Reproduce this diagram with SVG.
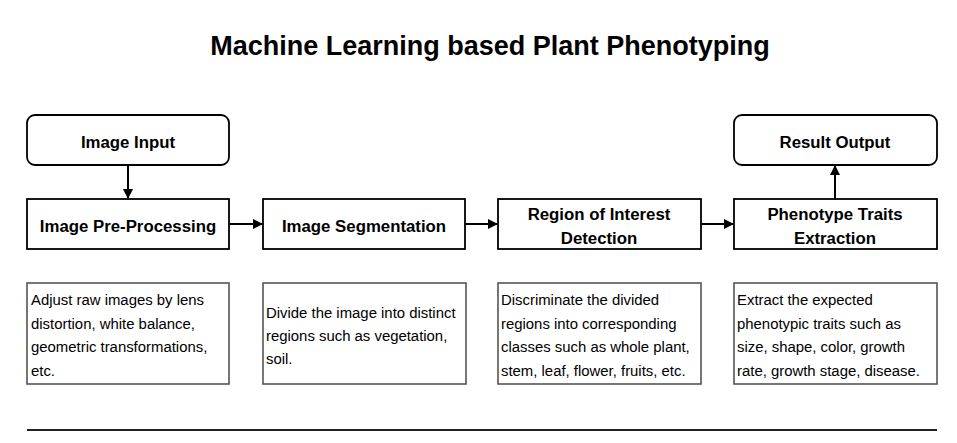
<svg xmlns="http://www.w3.org/2000/svg" width="957" height="443" viewBox="0 0 957 443">
<style>
.node{fill:#fff;stroke:#000;stroke-width:1.8}
.desc{fill:#fff;stroke:#555;stroke-width:1.6}
.lbl{font-family:"Liberation Sans",Arial,sans-serif;font-weight:bold;font-size:16.8px;fill:#000;text-anchor:middle}
.dt{font-family:"Liberation Sans",Arial,sans-serif;font-size:14.9px;fill:#000}
.title{font-family:"Liberation Sans",Arial,sans-serif;font-weight:bold;font-size:27px;fill:#000;text-anchor:middle}
.conn{stroke:#000;stroke-width:2;fill:none;marker-end:url(#ah)}
</style>
<defs>
<marker id="ah" viewBox="0 0 10 10" refX="10" refY="5" markerWidth="5" markerHeight="5" orient="auto" markerUnits="strokeWidth">
<path d="M0,0 L10,5 L0,10 z" fill="#000"/>
</marker>
</defs>
<rect width="957" height="443" fill="#fff"/>
<text class="title" x="490" y="55">Machine Learning based Plant Phenotyping</text>

<g id="image-input"><rect class="node" x="27" y="115" width="202" height="50" rx="8"/><text class="lbl" x="128" y="148">Image Input</text></g>
<g id="pre-processing"><rect class="node" x="27" y="199" width="202" height="50"/><text class="lbl" x="128" y="232">Image Pre-Processing</text></g>
<g id="segmentation"><rect class="node" x="263" y="199" width="202" height="50"/><text class="lbl" x="364" y="232">Image Segmentation</text></g>
<g id="roi"><rect class="node" x="498" y="199" width="203" height="50"/><text class="lbl" x="599" y="220">Region of Interest</text><text class="lbl" x="599" y="244">Detection</text></g>
<g id="phenotype"><rect class="node" x="734" y="199" width="203" height="50"/><text class="lbl" x="835" y="220">Phenotype Traits</text><text class="lbl" x="835" y="244">Extraction</text></g>
<g id="result-output"><rect class="node" x="734" y="115" width="203" height="50" rx="8"/><text class="lbl" x="835" y="148">Result Output</text></g>

<g id="desc-1"><rect class="desc" x="27" y="283" width="202" height="101"/>
<text class="dt" x="31" y="305">Adjust raw images by lens</text>
<text class="dt" x="31" y="329">distortion, white balance,</text>
<text class="dt" x="31" y="352">geometric transformations,</text>
<text class="dt" x="31" y="376">etc.</text></g>
<g id="desc-2"><rect class="desc" x="263" y="283" width="203" height="101"/>
<text class="dt" x="266" y="318">Divide the image into distinct</text>
<text class="dt" x="266" y="341">regions such as vegetation,</text>
<text class="dt" x="266" y="364">soil.</text></g>
<g id="desc-3"><rect class="desc" x="498" y="283" width="203" height="101"/>
<text class="dt" x="501" y="305">Discriminate the divided</text>
<text class="dt" x="501" y="329">regions into corresponding</text>
<text class="dt" x="501" y="352">classes such as whole plant,</text>
<text class="dt" x="501" y="376">stem, leaf, flower, fruits, etc.</text></g>
<g id="desc-4"><rect class="desc" x="734" y="283" width="203" height="101"/>
<text class="dt" x="737" y="305">Extract the expected</text>
<text class="dt" x="737" y="329">phenotypic traits such as</text>
<text class="dt" x="737" y="352">size, shape, color, growth</text>
<text class="dt" x="737" y="376">rate, growth stage, disease.</text></g>

<g id="connectors">
<line class="conn" x1="128" y1="165" x2="128" y2="199"/>
<line class="conn" x1="229" y1="224" x2="263" y2="224"/>
<line class="conn" x1="465" y1="224" x2="498" y2="224"/>
<line class="conn" x1="701" y1="224" x2="734" y2="224"/>
<line class="conn" x1="835" y1="199" x2="835" y2="165"/>
</g>
<line x1="27" y1="430" x2="937" y2="430" stroke="#222" stroke-width="2"/>
</svg>
